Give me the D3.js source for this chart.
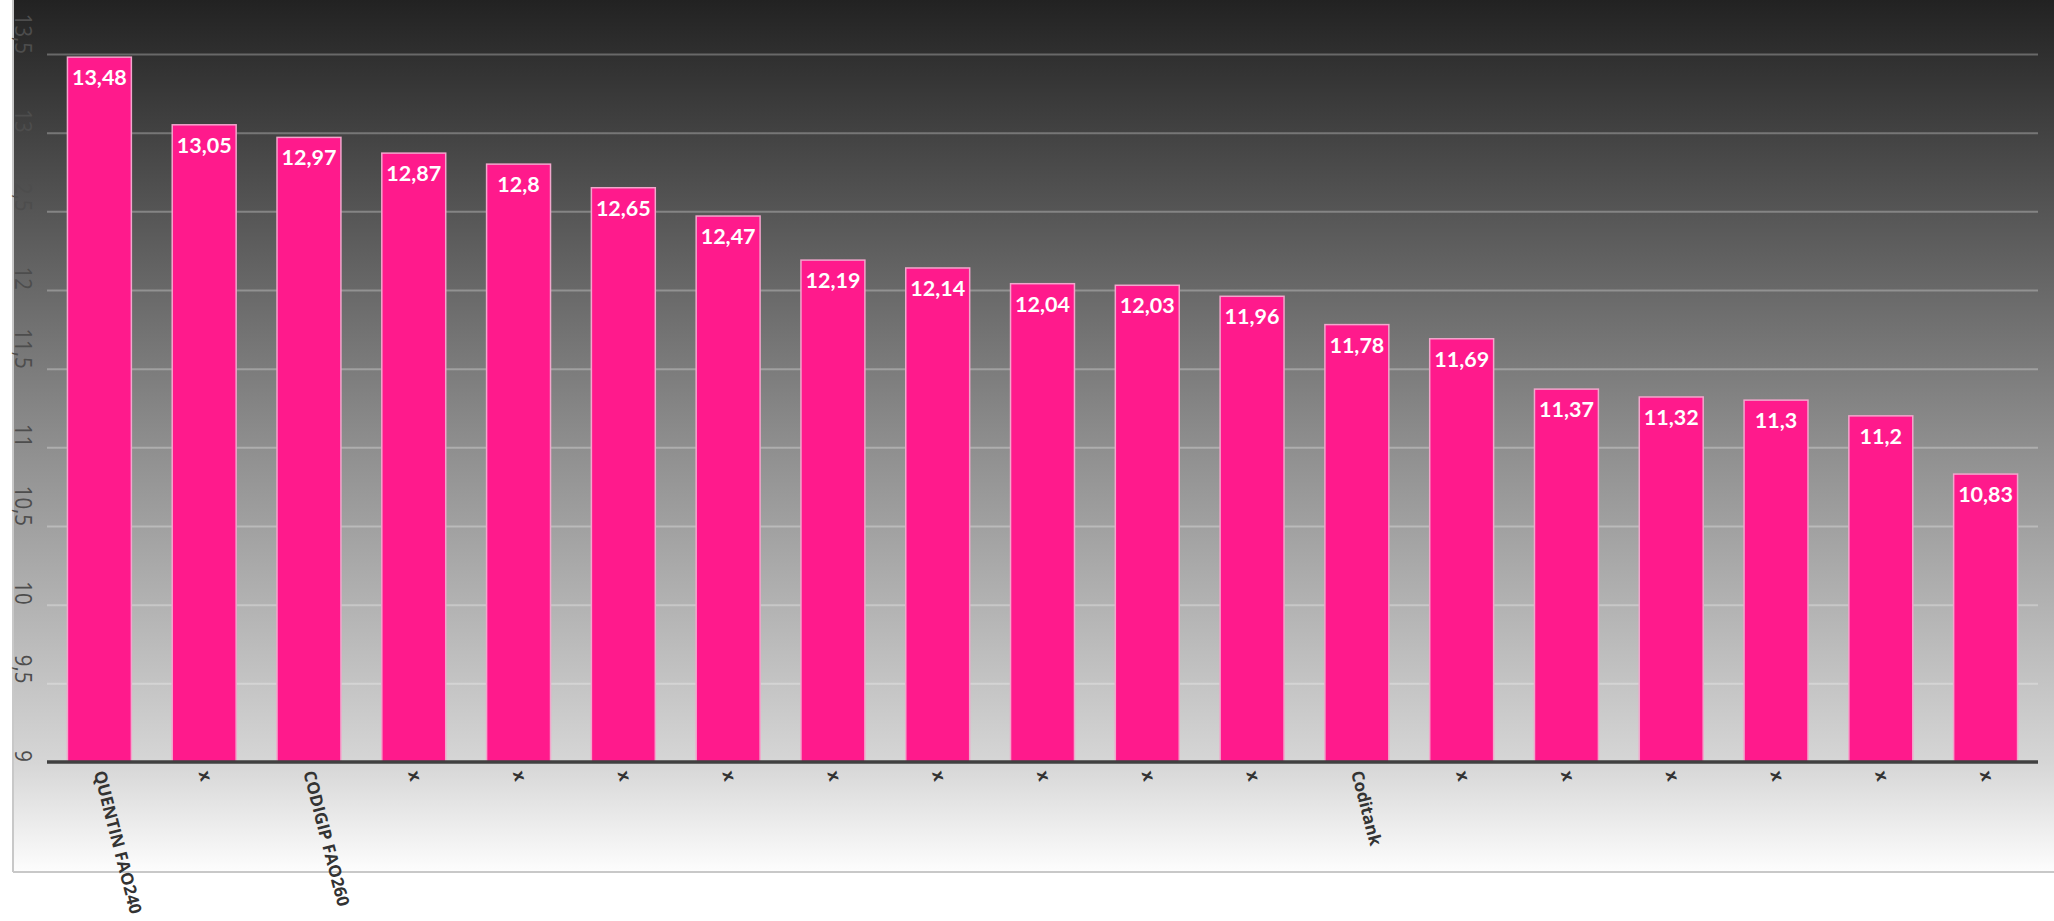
<!DOCTYPE html>
<html>
<head>
<meta charset="utf-8">
<script src="https://cdn.jsdelivr.net/npm/d3@7"></script>
<style>
html,body{margin:0;padding:0;background:#fff;}
svg{display:block;}
</style>
</head>
<body>
<script>
const categories = ["QUENTIN FAO240","x","CODIGIP FAO260","x","x","x","x","x","x","x","x","x","Coditank","x","x","x","x","x","x"];
const values = [13.48,13.05,12.97,12.87,12.8,12.65,12.47,12.19,12.14,12.04,12.03,11.96,11.78,11.69,11.37,11.32,11.3,11.2,10.83];
const valueLabels = ["13,48","13,05","12,97","12,87","12,8","12,65","12,47","12,19","12,14","12,04","12,03","11,96","11,78","11,69","11,37","11,32","11,3","11,2","10,83"];
const yTicks = [9,9.5,10,10.5,11,11.5,12,12.5,13,13.5];
const yTickLabels = ["9","9,5","10","10,5","11","11,5","12","12,5","13","13,5"];

const W = 2054, H = 921;
const svg = d3.select("body").append("svg").attr("width", W).attr("height", H);

const defs = svg.append("defs");
const grad = defs.append("linearGradient").attr("id","bg").attr("x1",0).attr("y1",0).attr("x2",0).attr("y2",1);
[[0,"#222222"],[0.5,"#8c8c8c"],[0.875,"#d6d6d6"],[1,"#fdfdfd"]].forEach(s=>grad.append("stop").attr("offset",s[0]).attr("stop-color",s[1]));

// plot background
svg.append("rect").attr("x",13).attr("y",0).attr("width",W-13).attr("height",872).attr("fill","url(#bg)");
svg.append("line").attr("x1",13).attr("x2",13).attr("y1",0).attr("y2",872).attr("stroke","#c8c8c8").attr("stroke-width",2);
svg.append("line").attr("x1",13).attr("x2",W).attr("y1",872).attr("y2",872).attr("stroke","#c8c8c8").attr("stroke-width",2);

const x = d3.scaleBand().domain(d3.range(categories.length)).range([47,2038]).paddingInner(0.39).paddingOuter(0.195);
const y = d3.scaleLinear().domain([9,13.5]).range([762,54]);

// gridlines
const grid = svg.append("g")
  .call(d3.axisLeft(y).tickValues(yTicks.slice(1)).tickSize(-(2038-47)).tickFormat(""))
  .attr("transform","translate(47,0)");
grid.select(".domain").remove();
grid.selectAll(".tick line").attr("stroke","rgba(255,255,255,0.28)").attr("stroke-width",2);

// y labels
const yl = svg.append("g");
yl.selectAll("text").data(yTicks).join("text")
  .attr("transform", (d)=>`translate(15,${y(d)}) rotate(90) scale(0.85,1)`)
  .attr("text-anchor","end")
  .attr("font-family","Open Sans")
  .attr("font-size",24)
  .attr("fill","#4d4d4d")
  .text((d,i)=>yTickLabels[i]);

// bars
svg.append("g").selectAll("rect").data(values).join("rect")
  .attr("x",(d,i)=>x(i))
  .attr("y",d=>y(d))
  .attr("width",x.bandwidth())
  .attr("height",d=>y(9)-y(d))
  .attr("fill","#ff1a8c")
  .attr("stroke","#f2a6cc")
  .attr("stroke-width",1.5);

// axis line
const xa = svg.append("g").attr("transform",`translate(0,${y(9)})`)
  .call(d3.axisBottom(x).tickSize(0).tickFormat(""));
xa.select(".domain").attr("stroke","#404040").attr("stroke-width",3.5).attr("d",`M47,0H2038`);

// value labels
svg.append("g").selectAll("text").data(values).join("text")
  .attr("x",(d,i)=>x(i)+x.bandwidth()/2)
  .attr("y",d=>y(d)+28)
  .attr("text-anchor","middle")
  .attr("font-family","Lato")
  .attr("font-weight","bold")
  .attr("font-size",21.5)
  .attr("fill","#ffffff")
  .text((d,i)=>valueLabels[i]);

// category labels
svg.append("g").selectAll("text").data(categories).join("text")
  .attr("transform",(d,i)=>`translate(${x(i)+x.bandwidth()/2},771) rotate(75.5)`)
  .attr("text-anchor","start")
  .attr("dy","0.35em")
  .attr("font-family","Open Sans")
  .attr("font-weight","bold")
  .attr("font-size",17)
  .attr("fill","#333333")
  .text(d=>d);
</script>
</body>
</html>
